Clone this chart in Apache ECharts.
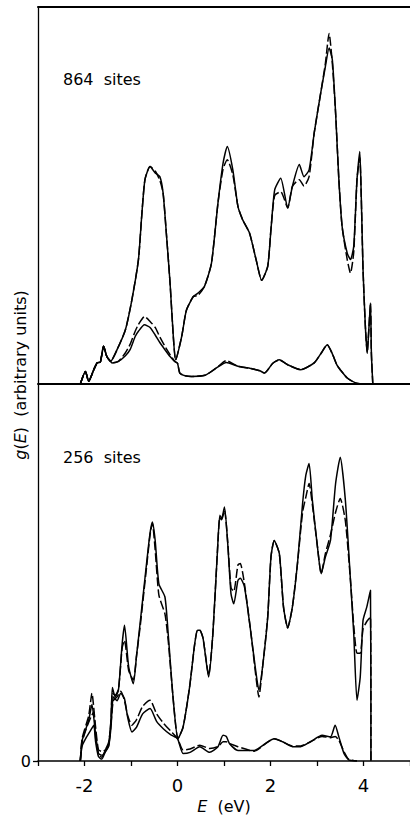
<!DOCTYPE html>
<html>
<head>
<meta charset="utf-8">
<script src="https://cdn.jsdelivr.net/npm/echarts@6/dist/echarts.min.js"></script>
<style>
  html, body { margin: 0; padding: 0; background: #fff; }
  #chart { width: 410px; height: 816px; }
</style>
</head>
<body>
<div id="chart"></div>
<script>
// energies (eV) and g(E) in arbitrary units (0-100 per panel)

// 864 sites, total DOS
const topE = [-2.09, -1.98, -1.91, -1.80, -1.73, -1.66, -1.59, -1.52, -1.44, -1.30,
  -1.12, -0.98, -0.84, -0.77, -0.70, -0.59, -0.48, -0.38, -0.31, -0.24,
  -0.16, -0.09, -0.04, 0.09, 0.19, 0.34, 0.44, 0.58, 0.73, 0.87,
  0.98, 1.07, 1.19, 1.30, 1.40, 1.55, 1.69, 1.81, 1.94, 2.01,
  2.09, 2.22, 2.37, 2.47, 2.62, 2.72, 2.83, 2.94, 3.08, 3.18,
  3.26, 3.33, 3.40, 3.47, 3.54, 3.65, 3.72, 3.79, 3.86, 3.92,
  3.95, 3.99, 4.04, 4.08, 4.11, 4.15, 4.17, 4.20]
const topTotalSolid = [0, 3.3, 0.7, 3.8, 5.6, 5.8, 10, 7.3, 6, 9.1,
  14.4, 22.4, 33, 44.5, 54.2, 57.7, 56, 55, 50.7, 40,
  26.8, 12.6, 6.4, 12.6, 19.5, 23.2, 24.1, 25.9, 32, 48,
  58.6, 63, 56.8, 47.1, 43.6, 40, 33, 27.5, 31.2, 41,
  51.5, 54.6, 46.7, 52.4, 58.2, 55, 56.8, 66.6, 77.2, 84.2,
  89.1, 86, 71.9, 54.2, 41.8, 34.7, 33, 36.5, 54.2, 61.7,
  50.7, 30.3, 15.3, 8.2, 13.5, 21.5, 8, 0]
const topTotalDashed = [0, 3.3, 0.7, 3.8, 5.6, 5.8, 10, 7.3, 6, 9.1,
  14.4, 22.4, 33, 44.5, 54.2, 57.7, 56.5, 54, 50.7, 40,
  26.8, 12.6, 6.4, 12.6, 19.5, 23.2, 23.5, 25.9, 32, 48,
  57, 59.5, 55.5, 47.1, 43.6, 40, 33, 27.5, 31.2, 41,
  50, 51, 46.7, 52.4, 54.2, 52.5, 55, 66.6, 77.2, 85,
  93, 85, 71.9, 54.2, 41.8, 33, 29.4, 35, 54.2, 60,
  50.7, 30.3, 15.3, 8.2, 13.5, 21.5, 8, 0]

// 864 sites, partial DOS
const topPartE = [-2.09, -1.98, -1.91, -1.80, -1.73, -1.66, -1.59, -1.52, -1.44, -1.41,
  -1.27, -1.12, -1.02, -0.91, -0.84, -0.71, -0.59, -0.48, -0.38, -0.27,
  -0.16, -0.06, 0.0, 0.05, 0.16, 0.30, 0.59, 0.83, 1.05, 1.30,
  1.62, 1.77, 1.87, 2.05, 2.19, 2.37, 2.65, 2.94, 3.08, 3.22,
  3.33, 3.43, 3.50, 3.65, 3.83, 3.97]
const topPartSolid = [0, 3.3, 0.7, 3.8, 5.6, 5.8, 10, 7.3, 6, 5.6,
  6, 7.5, 9.1, 12.6, 14, 15.7, 15, 13, 11, 9.1,
  7.3, 6, 5.5, 2.9, 2.2, 2, 2.3, 4.2, 5.7, 4.7,
  4, 3.5, 2.9, 5.5, 6.4, 5.1, 3.8, 5.6, 8, 10.4,
  8, 5, 3.8, 1.6, 0.3, 0]
const topPartDashed = [0, 3.3, 0.7, 3.8, 5.6, 5.8, 10, 7.3, 6, 5.6,
  6, 8.3, 10.5, 14, 15.8, 17.9, 16.6, 15, 12.5, 10,
  7.8, 6, 5.5, 2.9, 2.2, 2, 2.3, 4.2, 6.2, 4.7,
  4, 3.5, 2.9, 5.5, 6.4, 5.1, 3.8, 5.6, 8, 10.4,
  8, 5, 3.8, 1.6, 0.3, 0]

// 256 sites, total DOS
const botE = [-2.09, -2.05, -1.91, -1.84, -1.77, -1.70, -1.62, -1.55, -1.48, -1.43,
  -1.40, -1.34, -1.27, -1.19, -1.14, -1.05, -0.95, -0.88, -0.80, -0.73,
  -0.66, -0.59, -0.54, -0.48, -0.40, -0.27, -0.20, -0.09, 0.01, 0.12,
  0.26, 0.37, 0.43, 0.48, 0.55, 0.67, 0.76, 0.86, 0.91, 0.95,
  1.01, 1.08, 1.15, 1.21, 1.30, 1.35, 1.44, 1.58, 1.69, 1.75,
  1.83, 1.94, 2.01, 2.08, 2.19, 2.28, 2.37, 2.47, 2.58, 2.69,
  2.76, 2.83, 2.90, 3.01, 3.09, 3.18, 3.29, 3.40, 3.50, 3.61,
  3.72, 3.79, 3.86, 3.93, 3.99, 4.07, 4.15, 4.16]
const botTotalSolid = [0, 5.5, 10.8, 15, 8, 2, 1.5, 2.5, 4, 10.8,
  19.5, 17, 18.8, 31.1, 36, 25, 20.5, 28, 37, 45,
  53, 60.5, 63.4, 58.5, 47, 43.5, 33.7, 16.1, 5.9, 9,
  19.6, 31.1, 34.7, 34.7, 32.5, 22.3, 33.7, 55.9, 65.2, 64.3,
  67.4, 57.7, 44.4, 41.7, 47.9, 48.5, 46.2, 33.8, 23.2, 18.8,
  25, 38.2, 54.1, 58.5, 55, 40.8, 35.3, 40.8, 52.4, 68.3,
  75.8, 78.9, 69.2, 56.8, 49.7, 54.1, 58.5, 73.6, 80.6, 69.2,
  47.9, 33.8, 16.1, 22.3, 37.3, 40.8, 45.3, 0]
const botTotalDashed = [0, 6, 12, 18, 10, 3, 2.5, 3, 4.5, 11,
  18, 17.5, 19, 30, 32, 24, 21.5, 28, 36, 44,
  52, 60, 63, 56, 44, 39, 32, 16, 6, 9,
  19.6, 31, 34.7, 34.7, 32.5, 22.8, 33.7, 55.9, 64.5, 64,
  66.5, 58, 46, 45, 52, 52.4, 47, 33.8, 22, 17,
  25, 38.2, 54.1, 58.5, 55, 40.8, 35.3, 40.8, 52.4, 66,
  70, 73.6, 68, 56.8, 49.7, 55, 60, 66, 69.6, 63.7,
  47.9, 36, 28.6, 28.6, 35, 37, 38.2, 0]

// 256 sites, partial DOS
const botPartE = [-2.09, -2.05, -1.95, -1.85, -1.80, -1.76, -1.70, -1.63, -1.55, -1.48,
  -1.43, -1.38, -1.30, -1.22, -1.14, -1.07, -0.98, -0.88, -0.75, -0.59,
  -0.45, -0.30, -0.15, 0.0, 0.12, 0.27, 0.48, 0.69, 0.87, 0.98,
  1.05, 1.12, 1.30, 1.65, 1.94, 2.08, 2.26, 2.47, 2.65, 2.86,
  3.11, 3.29, 3.39, 3.47, 3.58, 3.68, 3.86]
const botPartSolid = [0, 4, 6.5, 8.5, 9.5, 5, 1.2, 0.5, 2.5, 4,
  9, 17, 16, 18, 16.5, 11.5, 7.7, 9, 12.5, 13.9,
  10.5, 8.5, 7, 5.9, 2, 2.3, 3.8, 2.3, 3.8, 6.8,
  6.5, 4.6, 2.8, 2.8, 5.1, 5.9, 5.1, 3.8, 3.8, 5.1,
  6.8, 6.4, 9.5, 6.4, 2, 0.3, 0]
const botPartDashed = [0, 5, 9, 12, 13, 6, 2, 1, 3, 5,
  10, 16, 17, 18.5, 16, 12, 9.5, 11, 14.5, 16.1,
  12.5, 10, 8, 6, 2.9, 3.2, 4.2, 3.3, 3.8, 5.1,
  5.1, 4.6, 3.8, 2.6, 5, 5.9, 5.1, 4, 4, 5.1,
  6.5, 6.2, 6.5, 5.5, 2.5, 0.5, 0]

const xTickLabels = [-2, 0, 2, 4]
const panelLabels = ['864  sites', '256  sites']

const FONT = 'DejaVu Sans'
const zip = (xs, ys) => xs.map((x, i) => [x, ys[i]])

// one line series; dashed ones get a long-dash pattern
const curve = (grid, xs, ys, dashed) => ({
  type: 'line',
  xAxisIndex: grid === 0 ? 0 : 2,
  yAxisIndex: grid,
  data: zip(xs, ys),
  showSymbol: false,
  smooth: 0.2,
  lineStyle: { color: '#000', width: 1.5, type: dashed ? [9, 3] : 'solid' },
  silent: true,
})

const plainX = (grid, pos) => ({
  type: 'value', gridIndex: grid, position: pos, min: -3, max: 5,
  axisLine: { show: true, onZero: false, lineStyle: { color: '#000', width: 2 } },
  axisTick: { show: false }, axisLabel: { show: false }, splitLine: { show: false },
})

const chart = echarts.init(document.getElementById('chart'), null, { renderer: 'svg' })

const option = {
  animation: false,
  backgroundColor: '#fff',
  grid: [
    { left: 38, top: 7, width: 376, height: 377 },
    { left: 38, top: 384, width: 376, height: 377 },
  ],
  xAxis: [
    plainX(0, 'bottom'),
    plainX(0, 'top'),
    {
      type: 'value', gridIndex: 1, position: 'bottom', min: -3, max: 5, interval: 1,
      axisLine: { show: true, onZero: false, lineStyle: { color: '#000', width: 1.6 } },
      axisTick: { show: true, length: 5, lineStyle: { color: '#000', width: 1.3 } },
      axisLabel: {
        customValues: xTickLabels,
        margin: 15,
        color: '#000',
        fontFamily: FONT,
        fontSize: 18,
        formatter: (v) => String(v),
      },
      splitLine: { show: false },
      name: '{i|E}  (eV)',
      nameLocation: 'middle',
      nameGap: 37,
      nameTextStyle: {
        color: '#000', fontFamily: FONT, fontSize: 16,
        rich: { i: { fontStyle: 'italic', fontFamily: FONT, fontSize: 16, color: '#000' } },
      },
    },
  ],
  yAxis: [
    {
      type: 'value', gridIndex: 0, min: 0, max: 100,
      axisLine: { show: true, onZero: false, lineStyle: { color: '#000', width: 1.3 } },
      axisTick: { show: false }, axisLabel: { show: false }, splitLine: { show: false },
    },
    {
      type: 'value', gridIndex: 1, min: 0, max: 100,
      axisLine: { show: true, onZero: false, lineStyle: { color: '#000', width: 1.3 } },
      axisTick: { show: true, customValues: [0], length: 5, lineStyle: { color: '#000', width: 1.3 } },
      axisLabel: {
        customValues: [0], margin: 7, color: '#000', fontFamily: FONT, fontSize: 16,
      },
      splitLine: { show: false },
    },
  ],
  graphic: [
    {
      type: 'text', left: 63, top: 71,
      style: { text: panelLabels[0], fill: '#000', font: '16px "DejaVu Sans"' },
    },
    {
      type: 'text', left: 63, top: 449,
      style: { text: panelLabels[1], fill: '#000', font: '16px "DejaVu Sans"' },
    },
    {
      type: 'text', x: 20, y: 375, rotation: Math.PI / 2,
      style: {
        text: '{i|g}({i|E})  (arbitrary units)',
        fill: '#000',
        font: '16px "DejaVu Sans"',
        align: 'center', verticalAlign: 'middle',
        textAlign: 'center', textVerticalAlign: 'middle',
        rich: { i: { fontStyle: 'italic', fontFamily: FONT, fontSize: 16, fill: '#000' } },
      },
    },
  ],
  series: [
    curve(0, topE, topTotalSolid, false),
    curve(0, topE, topTotalDashed, true),
    curve(0, topPartE, topPartSolid, false),
    curve(0, topPartE, topPartDashed, true),
    curve(1, botE, botTotalSolid, false),
    curve(1, botE, botTotalDashed, true),
    curve(1, botPartE, botPartSolid, false),
    curve(1, botPartE, botPartDashed, true),
  ],
}

chart.setOption(option)
window.addEventListener('resize', () => {
  chart.resize()
})
</script>
</body>
</html>
